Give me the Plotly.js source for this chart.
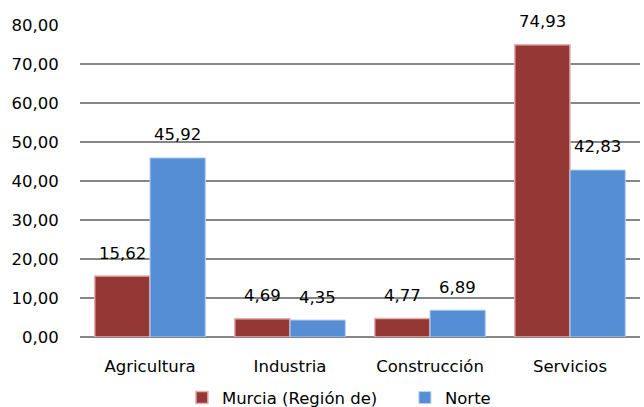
<!DOCTYPE html>
<html>
<head>
<meta charset="utf-8">
<script src="https://cdn.plot.ly/plotly-3.0.1.min.js"></script>
<style>html,body{margin:0;padding:0;background:#fff;}#chart{width:644px;height:407px;}</style>
</head>
<body>
<div id="chart"></div>
<script>
var categories = ["Agricultura", "Industria", "Construcción", "Servicios"];
var murcia = [15.62, 4.69, 4.77, 74.93];
var norte = [45.92, 4.35, 6.89, 42.83];
var seriesNames = ["Murcia (Región de)", "Norte"];

var W = 644, H = 407;
var margin = {l: 80, r: 4, t: 25, b: 70, autoexpand: false};
var bargap = 0.21;
var plotW = W - margin.l - margin.r;
var catW = plotW / categories.length;
var barW = catW * (1 - bargap) / 2;

function fmt(v) { return v.toFixed(2).replace('.', ','); }

var font = {family: "'DejaVu Sans', sans-serif", size: 16.5, color: "#000"};

var traces = [
  {type: "bar", name: seriesNames[0], x: categories, y: murcia,
   marker: {color: "#953735", line: {color: "#e6b0b0", width: 1.5}}, hoverinfo: "none"},
  {type: "bar", name: seriesNames[1], x: categories, y: norte,
   marker: {color: "#558ed5", line: {color: "#b9cfee", width: 1}}, hoverinfo: "none"}
];

var annotations = [];
[murcia, norte].forEach(function (arr, si) {
  arr.forEach(function (v, i) {
    annotations.push({
      x: categories[i], y: v, xref: "x", yref: "y",
      text: fmt(v), showarrow: false,
      xshift: (si === 0 ? -1 : 1) * barW / 2,
      yshift: 23, yanchor: "middle", xanchor: "center",
      font: font
    });
  });
});

var layout = {
  width: W, height: H,
  margin: margin,
  paper_bgcolor: "#fff", plot_bgcolor: "#fff",
  barmode: "group", bargap: bargap, bargroupgap: 0,
  separators: ",.",
  font: font,
  showlegend: true,
  legend: {orientation: "h", x: 0.182, xanchor: "left", y: -0.195, yanchor: "middle",
           font: font, itemwidth: 20, entrywidth: 178, entrywidthmode: "pixels",
           traceorder: "normal", tracegroupgap: 0},
  xaxis: {type: "category", showgrid: false, showline: false, zeroline: false,
          ticks: "outside", ticklen: 14, tickcolor: "rgba(0,0,0,0)",
          tickfont: font},
  yaxis: {range: [0, 80], dtick: 10, tickformat: ".2f", showgrid: true,
          gridcolor: "#868686", gridwidth: 1.5, zeroline: true, zerolinecolor: "#868686",
          zerolinewidth: 1.5, showline: false, ticks: "outside", ticklen: 17,
          tickcolor: "rgba(0,0,0,0)", tickfont: font},
  annotations: annotations
};

Plotly.newPlot("chart", traces, layout, {displayModeBar: false, staticPlot: true});
</script>
</body>
</html>
